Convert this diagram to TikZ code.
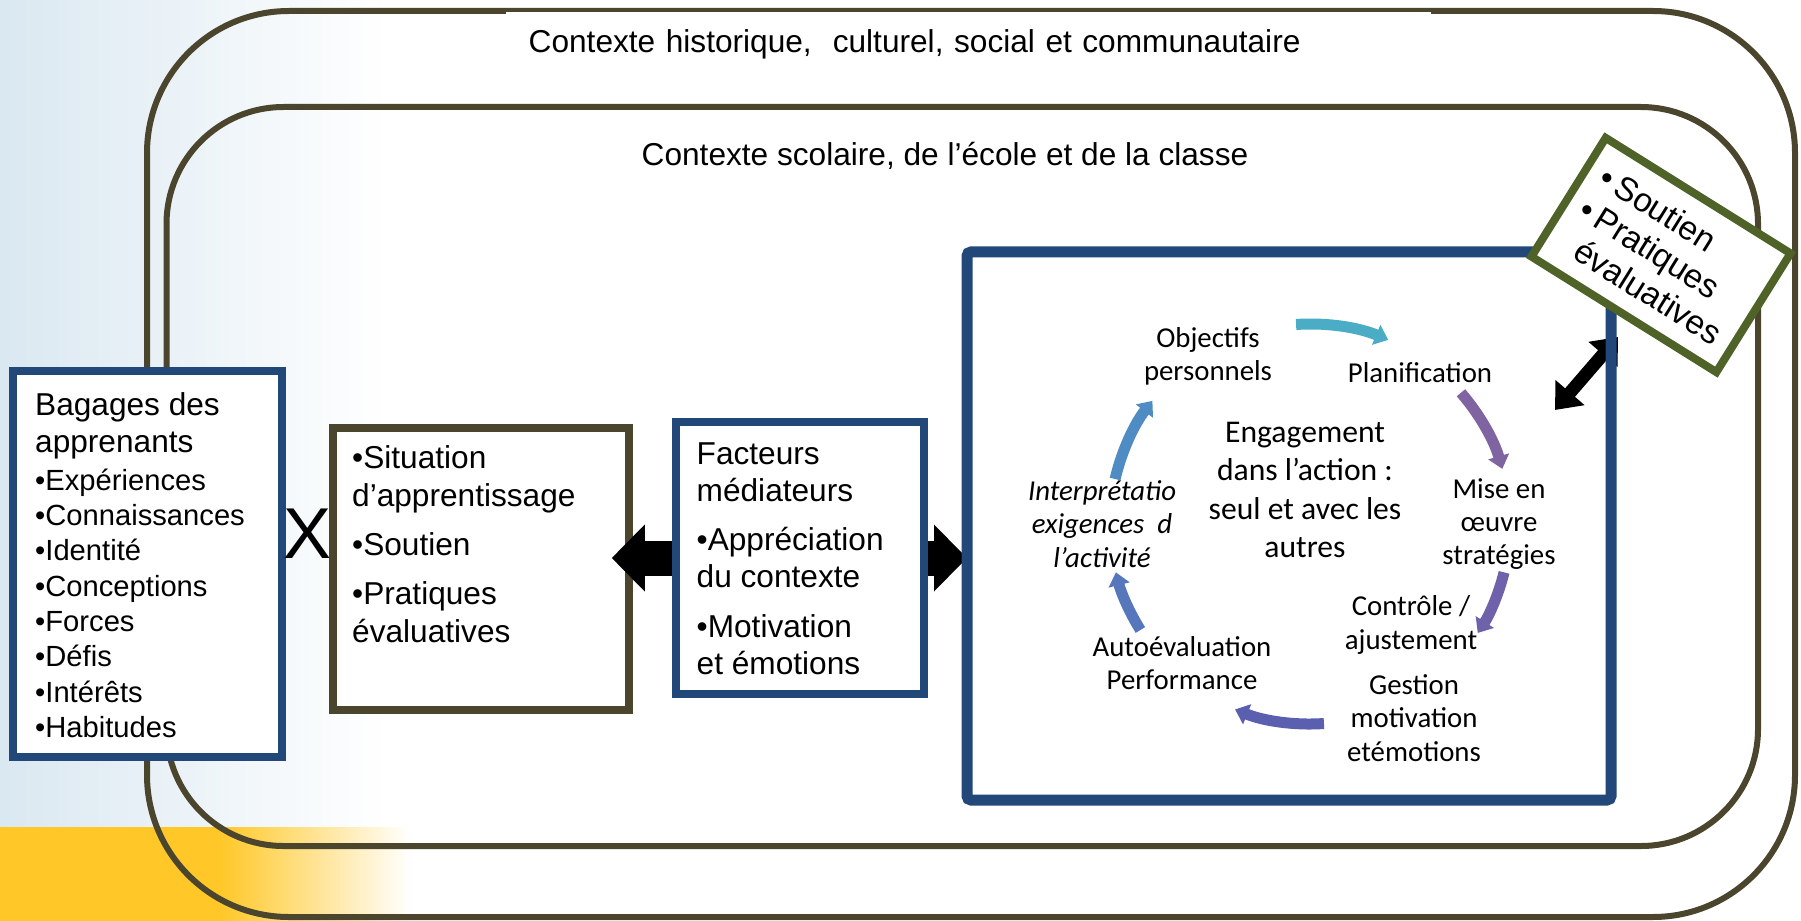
\documentclass[tikz,border=0pt]{standalone}
\usepackage{fontspec}
\setmainfont{Liberation Sans}
\newfontfamily\calibri{Carlito}
\usetikzlibrary{arrows.meta}

\definecolor{ctxline}{HTML}{4A452C}
\definecolor{boxblue}{HTML}{22487A}
\definecolor{boxgreen}{HTML}{4F6228}
\definecolor{bgblue}{HTML}{DAE8F1}
\definecolor{bgyellow}{HTML}{FFC828}
\definecolor{cycA}{HTML}{4BACC6}
\definecolor{cycB}{HTML}{8064A2}
\definecolor{cycC}{HTML}{7062AA}
\definecolor{cycD}{HTML}{5B5FB0}
\definecolor{cycE}{HTML}{5677BB}
\definecolor{cycF}{HTML}{4F8CC4}

\tikzset{
	context/.style = {draw=ctxline, line width=0.06cm},
	infobox/.style = {
			draw, fill=white,
			line width = 0.075cm,
			inner sep = 0pt,
		},
	boxtext/.style = {anchor=north west, align=left, inner sep=0pt},
	cycletext/.style = {
			align=center, inner sep=0pt,
			font=\calibri\fontsize{8.2}{9.5}\selectfont,
		},
	bigarrow/.style = {line width=0.35cm, -{Triangle[length=0.33cm,width=0.65cm]}},
	cyclearrow/.style = {line width=0.11cm, -{Triangle[length=0.13cm,width=0.21cm]}},
}

\begin{document}
\begin{tikzpicture}
		\useasboundingbox (0,0) rectangle (18.01,-9.21);

		% background
		\fill[left color=bgblue, right color=white] (0,0) rectangle (3.9,-8.27);
		\fill[bgyellow] (0,-8.27) rectangle (2.2,-9.21);
		\fill[left color=bgyellow, right color=white] (2.2,-8.27) rectangle (4.1,-9.21);

		% contexts
		\draw[context, rounded corners=1.42cm] (1.47,-0.11) rectangle (17.95,-9.17);
		\draw[context, rounded corners=1.17cm] (1.665,-1.07) rectangle (17.58,-8.46);
		\node[fill=white, anchor=north west, text width=8.79cm, inner xsep=0.23cm, inner ysep=0pt,
			minimum height=0.65cm, align=left, font=\fontsize{9}{11}\selectfont] (histo) at (5.05,-0.11)
			{Contexte historique,\ \ culturel, social et communautaire};
		\node[font=\fontsize{9}{11}\selectfont] (scolaire) at (9.45,-1.56)
			{Contexte scolaire, de l’école et de la classe};

		% left boxes
		\node[infobox, draw=boxblue, minimum width=2.69cm, minimum height=3.86cm] (bagages) at (1.475,-5.64) {};
		\node[boxtext, font=\fontsize{8.3}{10.05}\selectfont] (bagagestext) at (0.345,-3.92)
			{{\fontsize{9}{10.5}\selectfont Bagages des}\\[0.45pt]{\fontsize{9}{10.5}\selectfont apprenants}\\[0.7pt]•Expériences\\•Connaissances\\•Identité\\•Conceptions\\•Forces\\•Défis\\•Intérêts\\•Habitudes};

		\node[font=\fontsize{20.5}{24}\selectfont, inner sep=0pt] (times) at (3.08,-5.34) {X};

		\node[infobox, draw=ctxline, minimum width=2.96cm, minimum height=2.82cm] (situation) at (4.81,-5.69) {};
		\node[boxtext, font=\fontsize{9}{10.8}\selectfont] (situationtext) at (3.515,-4.45)
			{•Situation\\d’apprentissage\\[3.1pt]•Soutien\\[3.1pt]•Pratiques\\évaluatives};

		\node[infobox, draw=boxblue, minimum width=2.48cm, minimum height=2.72cm] (facteurs) at (8.00,-5.58) {};
		\node[boxtext, font=\fontsize{9}{10.5}\selectfont] (facteurstext) at (6.96,-4.42)
			{Facteurs\\médiateurs\\[3.6pt]•Appréciation\\du contexte\\[3.6pt]•Motivation\\et émotions};

		% big box
		\node[fill=white, inner sep=0pt, outer sep=0pt, minimum width=6.44cm, minimum height=5.48cm] (bigbox) at (12.89,-5.26) {};

		\draw[bigarrow] (facteurs.west) -- ([xshift=-0.21cm]situation.east |- facteurs.west);
		\draw[bigarrow] (facteurs.east) -- (bigbox.west |- facteurs.east);

		% cycle
		\coordinate (cyclecentre) at (13.10,-5.24);
		\node[cycletext] (objectifs) at (12.08,-3.565) {Objectifs\\personnels};
		\node[cycletext] (planif) at (14.20,-3.73) {Planification};
		\node[cycletext] (mise) at (14.99,-5.24) {Mise en\\œuvre\\stratégies};
		\node[cycletext] (controle) at (14.11,-6.25) {Contrôle /\\ajustement};
		\node[cycletext] (gestion) at (14.14,-7.18) {Gestion\\motivation\\etémotions};
		\node[cycletext] (autoeval) at (11.82,-6.63) {Autoévaluation\\Performance};
		\node[cycletext, font=\calibri\itshape\fontsize{8.2}{9.5}\selectfont] (interp) at (11.02,-5.24)
			{Interprétatio\\exigences\ \ d\\l’activité};
		\node[cycletext, font=\calibri\fontsize{9}{10.9}\selectfont] (engagement) at (13.05,-4.90)
			{Engagement\\dans l’action :\\seul et avec les\\autres};

		\draw[cyclearrow, cycA] ([shift={(94:2)}]cyclecentre) arc[start angle=94, end angle=67, radius=2];
		\draw[cyclearrow, cycB] ([shift={(41:2)}]cyclecentre) arc[start angle=41, end angle=16, radius=2];
		\draw[cyclearrow, cycC] ([shift={(-14:2)}]cyclecentre) arc[start angle=-14, end angle=-33, radius=2];
		\draw[cyclearrow, cycD] ([shift={(-86:2)}]cyclecentre) arc[start angle=-86, end angle=-112, radius=2];
		\draw[cyclearrow, cycE] ([shift={(-148:2)}]cyclecentre) arc[start angle=-148, end angle=-166, radius=2];
		\draw[cyclearrow, cycF] ([shift={(167:2)}]cyclecentre) arc[start angle=167, end angle=142, radius=2];

		% link to the support box
		\coordinate (linkA) at (15.55,-4.10);
		\coordinate (linkB) at (16.18,-3.37);
		\draw[line width=0.13cm, {Triangle[length=0.23cm,width=0.37cm]}-{Triangle[length=0.23cm,width=0.37cm]}] (linkA) -- (linkB);
		\draw[boxblue, line width=0.11cm, rounded corners=0.04cm] (bigbox.north west) rectangle (bigbox.south east);

		\node[infobox, draw=boxgreen, line width=0.08cm, rotate=-32, minimum width=2.18cm, minimum height=1.40cm,
			align=left, font=\fontsize{9.5}{10.8}\selectfont] (support) at (16.61,-2.55)
			{•\,Soutien\\•\,Pratiques\\\phantom{•\,}évaluatives};
	\end{tikzpicture}
\end{document}
